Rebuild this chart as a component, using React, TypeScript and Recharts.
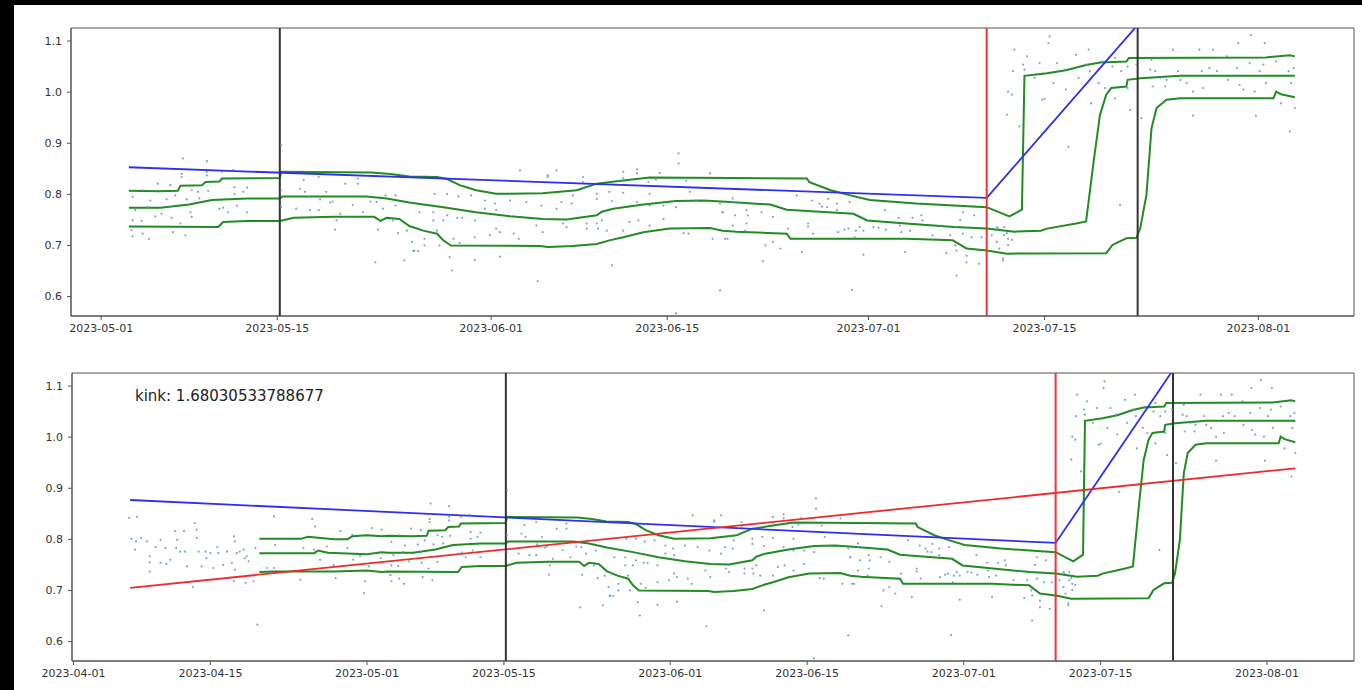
import { ComposedChart, Line, Scatter, XAxis, YAxis, ReferenceLine, ReferenceArea } from 'recharts';

// x values are days since 2023-04-01
type Pt = [number, number];

const topTicks = [30, 44, 61, 75, 91, 105, 122];
const bottomTicks = [0, 14, 30, 44, 61, 75, 91, 105, 122];
const yTicks = [0.6, 0.7, 0.8, 0.9, 1.0, 1.1];
const topDomain: [number, number] = [27.6, 129.6];
const bottomDomain: [number, number] = [-0.15, 130.9];
const yDomain: [number, number] = [0.562, 1.1255];

const blackLines = [44.2, 112.4];
const redLines = [100.4];
const kink = 'kink: 1.68030533788677';

const upperBand: Pt[] = [
  [19.0, 0.801], [23.2, 0.801], [24.0, 0.805], [25.0, 0.803], [26.6, 0.8], [28.0, 0.8], [28.5, 0.806], [30.0, 0.808], [31.5, 0.806],
  [32.2, 0.807], [34.6, 0.806], [36.1, 0.807], [36.3, 0.817], [38.0, 0.818], [38.3, 0.824], [39.4, 0.825], [39.6, 0.831], [44.2, 0.832],
  [44.3, 0.844], [51.5, 0.843], [53.0, 0.84], [54.5, 0.835], [56.7, 0.834], [57.5, 0.83], [58.5, 0.818], [59.8, 0.808], [61.4, 0.801],
  [65.1, 0.802], [67.8, 0.808], [69.4, 0.821], [71.5, 0.827], [73.6, 0.833], [80.0, 0.832], [86.1, 0.831], [86.3, 0.824], [88.0, 0.808],
  [89.4, 0.799], [91.1, 0.789], [94.8, 0.782], [100.4, 0.775], [102.2, 0.757], [103.2, 0.77], [103.4, 1.032], [105.2, 1.037],
  [106.7, 1.043], [108.3, 1.053], [109.4, 1.058], [111.5, 1.06], [111.7, 1.067], [122.6, 1.068], [124.5, 1.072], [124.9, 1.07],
];

const midBand: Pt[] = [
  [19.0, 0.773], [24.6, 0.773], [25.0, 0.778], [26.0, 0.774], [30.0, 0.771], [31.5, 0.775],
  [32.2, 0.774], [34.7, 0.774], [37.0, 0.78], [38.4, 0.787], [38.8, 0.789], [41.6, 0.792], [44.2, 0.792], [44.4, 0.796], [51.1, 0.796],
  [52.7, 0.792], [54.5, 0.784], [57.2, 0.775], [59.8, 0.765], [62.5, 0.757], [65.1, 0.752], [67.0, 0.751], [69.4, 0.759], [69.8, 0.766],
  [70.7, 0.772], [73.1, 0.78], [75.7, 0.787], [77.9, 0.788], [80.0, 0.785], [83.2, 0.78], [84.5, 0.77], [89.8, 0.762], [90.9, 0.749],
  [94.0, 0.743], [97.8, 0.736], [100.4, 0.733], [102.6, 0.727], [104.7, 0.729], [105.2, 0.733], [107.5, 0.743], [108.3, 0.747],
  [108.9, 0.864], [109.4, 0.955], [109.9, 0.995], [110.3, 1.008], [111.5, 1.011], [111.6, 1.024], [112.6, 1.027], [115.8, 1.032], [124.9, 1.032],
];

const lowBand: Pt[] = [
  [19.0, 0.736], [20.5, 0.737], [26.6, 0.737], [30.0, 0.739], [31.5, 0.736],
  [32.2, 0.737], [39.3, 0.736], [39.7, 0.746], [41.6, 0.748], [44.2, 0.748], [45.3, 0.754], [48.5, 0.756], [51.7, 0.756], [52.2, 0.748],
  [52.7, 0.754], [53.7, 0.752], [54.5, 0.738], [55.6, 0.729], [56.7, 0.723], [57.2, 0.71], [57.8, 0.7], [64.9, 0.699], [65.5, 0.697],
  [67.5, 0.699], [69.4, 0.703], [70.4, 0.71], [71.5, 0.716], [73.1, 0.726], [75.2, 0.733], [78.4, 0.734], [79.4, 0.729], [80.5, 0.727],
  [84.5, 0.723], [84.8, 0.713], [94.0, 0.713], [97.7, 0.71], [98.8, 0.694], [100.4, 0.69], [102.0, 0.684], [109.9, 0.685], [110.4, 0.701],
  [111.5, 0.714], [112.3, 0.715], [112.6, 0.733], [113.1, 0.799], [113.5, 0.929], [113.9, 0.969], [114.7, 0.985], [115.8, 0.988],
  [123.2, 0.988], [123.4, 1.001], [123.8, 0.996], [124.9, 0.99],
];

const blueTop: Pt[] = [[32.2, 0.853], [100.4, 0.793], [124.9, 1.484]];
const blueBottom: Pt[] = [[5.8, 0.877], [100.4, 0.793], [124.9, 1.484]];
const redFit: Pt[] = [[5.8, 0.705], [124.9, 0.939]];

const aprilPoints: Pt[] = [
  [5.7, 0.842], [6.5, 0.844], [5.9, 0.801], [6.4, 0.796], [6.9, 0.803], [6.3, 0.78], [7.5, 0.796], [7.8, 0.767], [7.8, 0.755], [7.8, 0.737],
  [8.4, 0.785], [8.9, 0.799], [8.9, 0.754], [9.4, 0.783], [9.5, 0.752], [9.9, 0.76], [10.4, 0.816], [10.6, 0.799], [10.5, 0.783], [10.9, 0.776],
  [11.3, 0.816], [11.4, 0.776], [11.6, 0.747], [12.4, 0.832], [12.6, 0.819], [12.6, 0.803], [12.8, 0.776], [13.1, 0.747], [13.5, 0.776],
  [13.6, 0.763], [14.0, 0.773], [14.3, 0.744], [14.7, 0.785], [14.8, 0.773], [15.3, 0.75], [15.7, 0.776], [16.2, 0.754], [16.4, 0.806],
  [16.5, 0.796], [16.5, 0.741], [16.7, 0.773], [17.0, 0.776], [17.4, 0.78], [17.5, 0.763], [17.7, 0.767], [17.9, 0.757], [16.4, 0.718],
  [17.6, 0.715], [18.4, 0.718], [18.6, 0.783], [18.8, 0.633], [12.2, 0.707], [20.5, 0.845], [19.8, 0.744], [20.5, 0.744], [20.6, 0.789],
  [23.2, 0.721], [23.5, 0.783], [24.4, 0.84], [24.6, 0.78], [24.7, 0.825], [25.2, 0.76], [25.9, 0.786], [26.6, 0.75], [26.8, 0.724],
  [27.3, 0.816], [28.0, 0.783], [28.5, 0.809], [28.6, 0.76], [29.7, 0.695], [29.8, 0.718], [30.2, 0.747], [30.5, 0.822], [31.5, 0.819],
  [30.7, 0.773], [31.4, 0.763], [29.3, 0.767],
];

const mainPoints: Pt[] = [
  [36.5, 0.87], [38.4, 0.865], [36.4, 0.84], [36.4, 0.834], [38.4, 0.844], [38.4, 0.837], [39.6, 0.844], [40.5, 0.848], [34.5, 0.821],
  [35.5, 0.818], [33.3, 0.808], [32.5, 0.795], [33.9, 0.788], [35.2, 0.79], [35.9, 0.798], [36.8, 0.79], [37.7, 0.805], [38.5, 0.807],
  [37.8, 0.792], [37.2, 0.808], [40.6, 0.814], [41.6, 0.813], [41.3, 0.805], [40.6, 0.801], [40.8, 0.778], [39.4, 0.772], [39.7, 0.774],
  [41.6, 0.765], [40.1, 0.765], [37.1, 0.765], [37.2, 0.756], [35.6, 0.754], [34.8, 0.762], [34.3, 0.757], [33.2, 0.748], [32.5, 0.749],
  [36.3, 0.743], [32.4, 0.73], [32.5, 0.718], [33.3, 0.723], [33.8, 0.713], [35.7, 0.726], [36.7, 0.72], [32.7, 0.769], [33.7, 0.775],
  [35.5, 0.775], [44.3, 0.896], [44.3, 0.808], [44.3, 0.775], [46.1, 0.828], [47.3, 0.834], [49.4, 0.821], [50.4, 0.831], [50.4, 0.821],
  [45.8, 0.811], [46.2, 0.805], [47.9, 0.805], [47.4, 0.79], [48.4, 0.786], [48.2, 0.784], [50.0, 0.779], [51.4, 0.786], [51.9, 0.785],
  [52.6, 0.798], [53.4, 0.798], [52.4, 0.772], [53.4, 0.778], [45.5, 0.772], [46.6, 0.769], [47.3, 0.769], [49.0, 0.762], [50.8, 0.765],
  [48.7, 0.749], [48.6, 0.731], [52.0, 0.731], [53.2, 0.749], [53.6, 0.724], [54.3, 0.729], [54.7, 0.707], [54.8, 0.689], [55.2, 0.689],
  [51.8, 0.667], [54.1, 0.671],
  [63.3, 0.847], [65.5, 0.837], [65.5, 0.834], [66.2, 0.847], [68.3, 0.834], [68.3, 0.824], [71.5, 0.844], [71.5, 0.832], [72.6, 0.849],
  [72.6, 0.841], [75.9, 0.88], [75.9, 0.86], [74.4, 0.842], [73.5, 0.824], [74.1, 0.829], [76.5, 0.827], [78.4, 0.841], [56.5, 0.801],
  [57.5, 0.801], [58.4, 0.796], [59.4, 0.798], [60.5, 0.788], [61.3, 0.782], [61.4, 0.769], [60.5, 0.772], [62.5, 0.788], [63.8, 0.785],
  [65.0, 0.778], [66.2, 0.772], [66.6, 0.785], [67.5, 0.798], [67.4, 0.782], [69.4, 0.801], [69.4, 0.791], [70.4, 0.805], [70.6, 0.787],
  [71.5, 0.803], [72.6, 0.785], [73.6, 0.801], [73.6, 0.778], [74.7, 0.778], [75.7, 0.775], [76.8, 0.805], [77.3, 0.788], [79.2, 0.782],
  [79.4, 0.765], [55.3, 0.765], [56.4, 0.765], [57.5, 0.759], [58.3, 0.754], [58.7, 0.754], [59.7, 0.749], [57.2, 0.749], [56.4, 0.749],
  [64.6, 0.739], [66.7, 0.743], [67.0, 0.736], [68.6, 0.743], [68.6, 0.733], [69.4, 0.743], [69.8, 0.749], [69.5, 0.733], [70.2, 0.729],
  [71.5, 0.729], [72.0, 0.746], [72.7, 0.749], [73.6, 0.739], [74.7, 0.752], [76.3, 0.724], [76.7, 0.723], [78.6, 0.713], [79.6, 0.713],
  [56.7, 0.729], [55.7, 0.713], [55.7, 0.7], [54.9, 0.69], [56.9, 0.7], [58.0, 0.713], [58.5, 0.705], [59.7, 0.716], [60.9, 0.72],
  [61.4, 0.733], [61.7, 0.726], [62.8, 0.723], [63.2, 0.713], [65.1, 0.726], [57.7, 0.677], [59.7, 0.672], [61.7, 0.678], [57.9, 0.651],
  [64.7, 0.63], [70.6, 0.661], [79.2, 0.612], [75.7, 0.567],
  [80.2, 0.792], [80.2, 0.785], [79.4, 0.765], [80.4, 0.759], [81.3, 0.769], [81.4, 0.759], [82.5, 0.765], [83.4, 0.756], [80.2, 0.739],
  [81.3, 0.743], [81.2, 0.729], [79.8, 0.713], [82.8, 0.7], [83.4, 0.707], [84.0, 0.694], [82.6, 0.669], [85.3, 0.798], [86.5, 0.788],
  [87.1, 0.782], [87.3, 0.776], [87.8, 0.791], [87.7, 0.775], [88.5, 0.782], [88.5, 0.769], [89.5, 0.785], [86.2, 0.743], [86.2, 0.737],
  [84.6, 0.733], [86.6, 0.723], [85.7, 0.687], [88.6, 0.726], [89.1, 0.731], [89.4, 0.733], [90.0, 0.729], [90.3, 0.736], [90.6, 0.729],
  [89.9, 0.716], [90.6, 0.682], [89.7, 0.613], [91.4, 0.736], [91.8, 0.735], [92.3, 0.769], [92.4, 0.731], [93.4, 0.754], [93.5, 0.739],
  [93.6, 0.726], [94.5, 0.754], [94.3, 0.729], [95.2, 0.759], [95.3, 0.749], [96.1, 0.72], [96.8, 0.739], [97.5, 0.72], [97.9, 0.7],
  [98.0, 0.69], [93.9, 0.687], [97.2, 0.685], [98.3, 0.75], [98.5, 0.765], [98.5, 0.723], [98.8, 0.68], [98.8, 0.667], [99.2, 0.716],
  [99.4, 0.759], [99.8, 0.664], [98.0, 0.641], [100.0, 0.716], [100.8, 0.72], [101.2, 0.707], [101.8, 0.72], [102.1, 0.713], [101.7, 0.671],
  [101.4, 0.694], [101.2, 0.736], [101.8, 0.736], [101.3, 0.733], [102.0, 0.724], [101.7, 0.675], [102.4, 0.711], [102.1, 0.701],
  [102.0, 0.956], [102.5, 1.041], [102.1, 1.001], [102.4, 0.995], [102.6, 1.083], [103.3, 1.054], [103.4, 1.044], [103.0, 0.933],
  [103.6, 1.07], [104.2, 1.028], [104.6, 1.057], [104.8, 0.985], [105.0, 0.987], [105.3, 1.096], [105.4, 1.109], [105.7, 1.018],
  [106.0, 1.057], [106.6, 1.044], [106.7, 1.005], [106.9, 0.893], [107.5, 1.073], [107.7, 1.028], [108.3, 1.054], [108.5, 1.083],
  [108.6, 1.041], [108.7, 0.978], [109.3, 1.018], [109.6, 1.06], [109.8, 1.008], [110.4, 1.05], [110.6, 1.067], [110.6, 0.988],
  [111.1, 1.041], [111.0, 0.779], [111.6, 1.05], [111.6, 1.008], [111.8, 0.965], [112.3, 1.054], [112.7, 0.949], [113.4, 1.044],
  [113.5, 1.063], [113.8, 1.041], [114.2, 1.028], [114.6, 1.011], [115.2, 1.083], [115.6, 1.041], [115.8, 1.024], [116.3, 1.018],
  [116.8, 1.001], [116.8, 0.954], [117.3, 1.083], [117.5, 1.041], [117.6, 1.008], [118.1, 1.047], [118.4, 1.083], [118.7, 1.041],
  [119.5, 1.07], [119.6, 1.024], [120.3, 1.047], [120.4, 1.096], [120.5, 1.014], [120.8, 1.005], [121.3, 1.057], [121.4, 1.112],
  [121.7, 1.001], [121.8, 0.954], [122.1, 1.041], [122.4, 1.054], [122.5, 1.096], [122.6, 1.018], [123.4, 1.06], [123.8, 0.978],
  [124.4, 1.041], [124.5, 0.923], [124.6, 1.018], [124.8, 1.047], [124.9, 0.969], [113.6, 1.011], [114.7, 1.024],
];

const toRows = (pts: Pt[]) => pts.map(([t, v]) => ({ t, v }));
const DAY0 = Date.UTC(2023, 3, 1);
const fmtDate = (t: number) => new Date(DAY0 + Math.round(t) * 86400000).toISOString().slice(0, 10);

const tickStyle = { fontSize: 11, fill: '#333', fontFamily: 'DejaVu Sans' };
const dot = (p: any) => <circle cx={p.cx} cy={p.cy} r={1.1} fill="#5d8fcf" fillOpacity={0.8} />;

interface PanelProps {
  domain: [number, number];
  ticks: number[];
  points: Pt[];
  bands: Pt[][];
  blue: Pt[];
  red?: Pt[];
  axisWidth: number;
}

function Panel({ domain, ticks, points, bands, blue, red, axisWidth }: PanelProps) {
  return (
    <ComposedChart width={1362} height={345} margin={{ top: 28, right: 8, bottom: 0, left: 0 }}>
      <XAxis
        type="number"
        dataKey="t"
        domain={domain}
        ticks={ticks}
        tickFormatter={fmtDate}
        allowDataOverflow
        height={29}
        tickSize={4}
        tickMargin={4}
        tick={tickStyle}
        stroke="#555"
      />
      <YAxis
        type="number"
        dataKey="v"
        domain={yDomain}
        ticks={yTicks}
        tickFormatter={(v: number) => v.toFixed(1)}
        allowDataOverflow
        width={axisWidth}
        tickSize={4}
        tickMargin={5}
        tick={tickStyle}
        stroke="#555"
      />
      <ReferenceArea x1={domain[0]} x2={domain[1]} y1={yDomain[0]} y2={yDomain[1]} fill="none" stroke="#555" strokeWidth={1} />
      <Scatter data={toRows(points)} dataKey="v" shape={dot} isAnimationActive={false} />
      {bands.map((b, i) => (
        <Line key={i} data={toRows(b)} dataKey="v" type="linear" stroke="#228b22" strokeWidth={2} dot={false} isAnimationActive={false} />
      ))}
      <Line data={toRows(blue)} dataKey="v" type="linear" stroke="#2f2ff0" strokeWidth={1.8} dot={false} isAnimationActive={false} />
      {red && (
        <Line data={toRows(red)} dataKey="v" type="linear" stroke="#ee2a2a" strokeWidth={1.8} dot={false} isAnimationActive={false} />
      )}
      {blackLines.map((x) => (
        <ReferenceLine key={x} x={x} stroke="#333" strokeWidth={2} />
      ))}
      {redLines.map((x) => (
        <ReferenceLine key={x} x={x} stroke="#ee3333" strokeWidth={2} />
      ))}
    </ComposedChart>
  );
}

export default function App() {
  const topPoints = mainPoints;
  const bottomPoints = [...aprilPoints, ...mainPoints];
  const topBands = [upperBand, midBand, lowBand].map((b) => b.filter(([t]) => t >= 32.2));
  const bottomBands = [upperBand, midBand, lowBand];
  return (
    <div style={{ position: 'absolute', left: 0, top: 0, width: 1362, height: 690, background: '#000', overflow: 'hidden' }}>
      <div style={{ position: 'absolute', left: 14, top: 5, right: 0, bottom: 0, background: '#fff' }} />
      <div style={{ position: 'absolute', left: 0, top: 0 }}>
        <Panel domain={topDomain} ticks={topTicks} points={topPoints} bands={topBands} blue={blueTop} axisWidth={71} />
      </div>
      <div style={{ position: 'absolute', left: 0, top: 345 }}>
        <Panel
          domain={bottomDomain}
          ticks={bottomTicks}
          points={bottomPoints}
          bands={bottomBands}
          blue={blueBottom}
          red={redFit}
          axisWidth={72}
        />
      </div>
      <div
        style={{
          position: 'absolute',
          left: 135,
          top: 389,
          fontFamily: 'DejaVu Sans',
          fontSize: 15,
          lineHeight: '15px',
          color: '#222',
          whiteSpace: 'nowrap',
        }}
      >
        {kink}
      </div>
    </div>
  );
}
